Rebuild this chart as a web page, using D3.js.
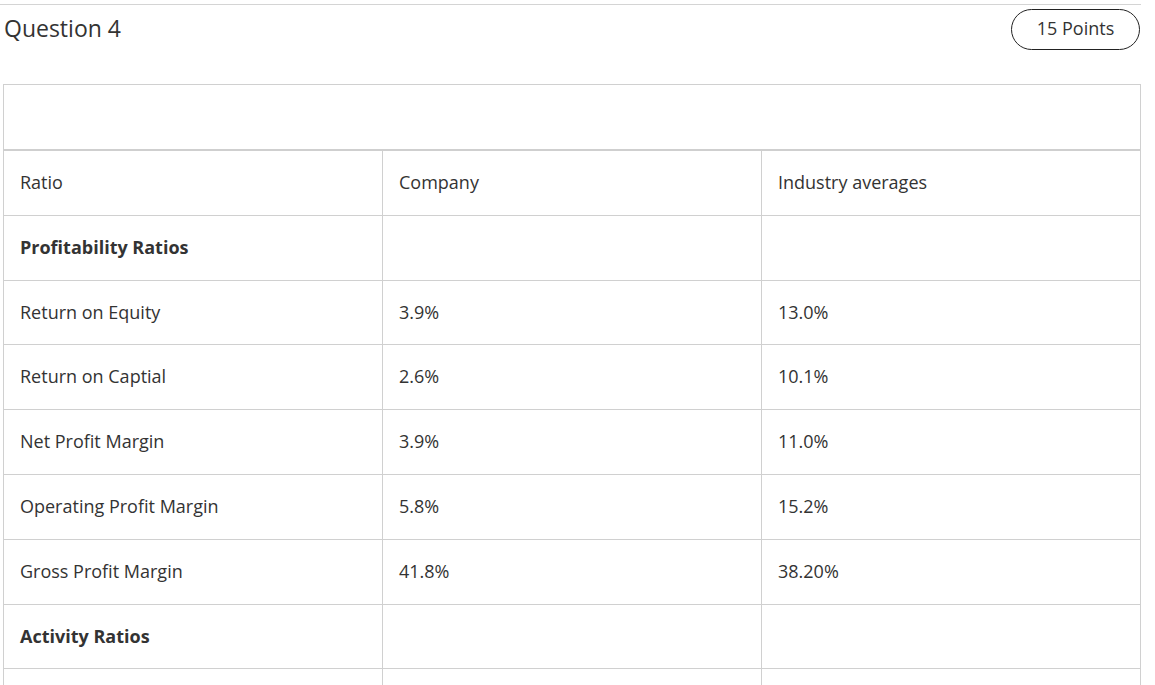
<!DOCTYPE html><html><head><meta charset="utf-8">
<script src="https://cdn.jsdelivr.net/npm/d3@7"></script>
<style>body{margin:0;background:#fff;overflow:hidden}</style></head><body>
<script>
const title = "Question 4";
const points = "15 Points";
const columns = ["Ratio","Company","Industry averages"];
const rowLabels = ["Profitability Ratios","Return on Equity","Return on Captial","Net Profit Margin","Operating Profit Margin","Gross Profit Margin","Activity Ratios",""];
const companyVals = ["","3.9%","2.6%","3.9%","5.8%","41.8%","",""];
const industryVals = ["","13.0%","10.1%","11.0%","15.2%","38.20%","",""];
const boldRows = ["Profitability Ratios","Activity Ratios"];

(function(){
const W=1155,H=685, F="'Open Sans', sans-serif";
const svg=d3.select("body").append("svg").attr("width",W).attr("height",H);
svg.append("line").attr("x1",0).attr("x2",1141).attr("y1",4.5).attr("y2",4.5).attr("stroke","#d4d4d4");
svg.append("text").attr("x",4).attr("y",37).attr("font-family",F).attr("font-size",23).attr("fill","#333").text(title);
svg.append("rect").attr("x",1011.5).attr("y",9.5).attr("width",128).attr("height",40).attr("rx",20).attr("fill","#fff").attr("stroke","#222");
svg.append("text").attr("x",1075.5).attr("y",35).attr("text-anchor","middle").attr("font-family",F).attr("font-size",18).attr("fill","#333").text(points);

const x0=3, x1=1140, colX=[3,382,761,1140];
const tableTop=84, headH=66;
const rows=[columns].concat(rowLabels.map((r,i)=>[r,companyVals[i],industryVals[i]]));
const y=d3.scaleBand().domain(d3.range(rows.length)).range([150,150+64.8*rows.length]);
const g=svg.append("g");
g.append("rect").attr("x",x0+.5).attr("y",tableTop+.5).attr("width",x1-x0).attr("height",H).attr("fill","none").attr("stroke","#d0d0d0");
g.append("rect").attr("x",x0).attr("y",tableTop+headH-1).attr("width",x1-x0).attr("height",2).attr("fill","#cfcfcf");
rows.forEach((r,i)=>{
  const yy=y(i);
  if(i>0) g.append("line").attr("x1",x0).attr("x2",x1).attr("y1",Math.round(yy)+.5).attr("y2",Math.round(yy)+.5).attr("stroke","#d0d0d0");
  r.forEach((t,j)=>{
    g.append("text").attr("x",colX[j]+17).attr("y",yy+y.bandwidth()/2+6.5).attr("font-family",F).attr("font-size",18)
     .attr("font-weight",boldRows.includes(t)?700:400).attr("fill","#333").text(t);
  });
});
[382,761].forEach(cx=>g.append("line").attr("x1",cx+.5).attr("x2",cx+.5).attr("y1",151).attr("y2",H).attr("stroke","#d0d0d0"));
})();
</script></body></html>
